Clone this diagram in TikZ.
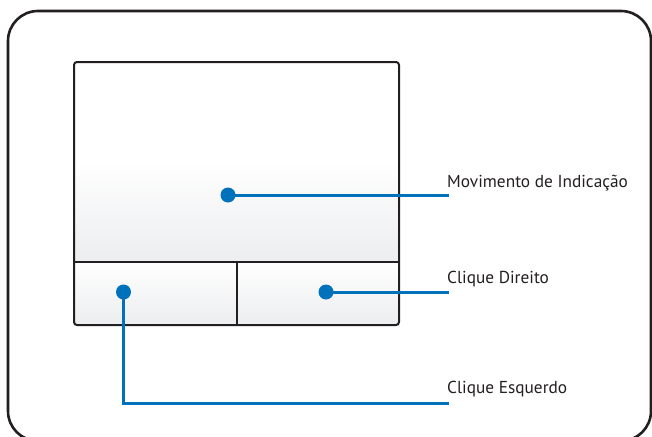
\documentclass[tikz,border=0pt]{standalone}
\usepackage{fontspec}
\setmainfont{PT Sans}
\definecolor{blueline}{HTML}{0072BC}
\definecolor{darkline}{HTML}{231F20}
\definecolor{padgray}{HTML}{ECEDEF}
\begin{document}
\begin{tikzpicture}[x=1pt,y=-1pt,
  frame/.style={draw=darkline,line width=2.6pt,rounded corners=30pt},
  padline/.style={draw=darkline,line width=2pt},
  leader/.style={draw=blueline,line width=3pt},
  dotmark/.style={circle,fill=blueline,inner sep=0pt,minimum size=15pt},
  lbl/.style={anchor=base west,inner sep=0pt,font=\fontsize{17.3}{19}\selectfont,text=darkline}]
\useasboundingbox (0,0) rectangle (652,436);
\clip (0,0) rectangle (652,436);
% outer frame
\draw[frame] (8,11) rectangle (651,441);
% touchpad surface
\fill[white] (74,62) rectangle (399,160);
\shade[top color=white,bottom color=padgray] (74,160) rectangle (399,262);
\shade[top color=white,bottom color=padgray] (74,262) rectangle (399,325);
\draw[padline,rounded corners=3pt] (74,62) rectangle (399,325);
\draw[padline] (74,262) -- (399,262);
\draw[padline] (237,262) -- (237,325);
% dots
\node[dotmark] (dmain) at (228,195) {};
\node[dotmark] (dleft) at (123.5,292) {};
\node[dotmark] (dright) at (326,292) {};
% label anchors
\coordinate (emain) at (449,195);
\coordinate (eright) at (449,292);
\coordinate (eleft) at (449,403.5);
\node[lbl] (tmain) at (447,187) {Movimento de Indicação};
\node[lbl] (tright) at (447,283) {Clique Direito};
\node[lbl] (tleft) at (447,393.5) {Clique Esquerdo};
% leaders
\draw[leader] (dmain.center) -- (emain);
\draw[leader] (dright.center) -- (eright);
\draw[leader] (dleft.center) |- (eleft);
\end{tikzpicture}
\end{document}
